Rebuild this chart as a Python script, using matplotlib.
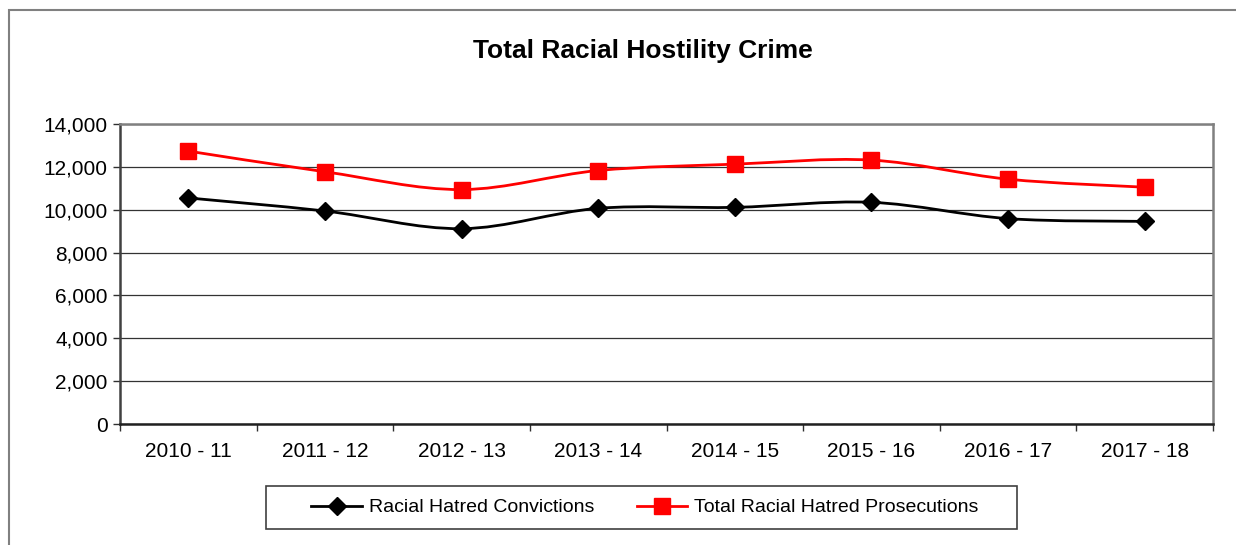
import matplotlib
matplotlib.use("Agg")
import matplotlib.pyplot as plt
import numpy as np
from matplotlib.path import Path
from matplotlib.patches import PathPatch, Rectangle
from matplotlib.lines import Line2D

plt.rcParams['font.family'] = ['Liberation Sans', 'DejaVu Sans']

years = ["2010 - 11", "2011 - 12", "2012 - 13", "2013 - 14",
         "2014 - 15", "2015 - 16", "2016 - 17", "2017 - 18"]
convictions = [10550, 9940, 9115, 10065, 10110, 10345, 9585, 9455]
prosecutions = [12735, 11770, 10940, 11830, 12125, 12315, 11425, 11050]


def smooth_path(xs, ys):
    # excel-like smoothed line: bezier segments through each point
    p = np.column_stack([xs, ys]).astype(float)
    ext = np.vstack([p[0], p, p[-1]])
    verts = [p[0]]
    codes = [Path.MOVETO]
    for i in range(len(p) - 1):
        p0, p1, p2, p3 = ext[i], ext[i + 1], ext[i + 2], ext[i + 3]
        c1 = p1 + (p2 - p0) / 6.0
        c2 = p2 - (p3 - p1) / 6.0
        verts += [c1, c2, p2]
        codes += [Path.CURVE4] * 3
    return Path(verts, codes)


fig = plt.figure(figsize=(12.36, 5.45), dpi=100)

# outer chart border (only top/left visible in the crop)
fig.patches.append(Rectangle((9 / 1236, -0.1), 1.2, 1 - 10 / 545 + 0.1,
                             transform=fig.transFigure, fill=False,
                             edgecolor='#808080', linewidth=1.5))

ax = fig.add_axes([120 / 1236, 121 / 545, 1093 / 1236, 300 / 545])
x = np.arange(len(years))

for vals, col, mk, ms in [(convictions, 'black', 'D', 9),
                          (prosecutions, '#ff0000', 's', 11)]:
    ax.add_patch(PathPatch(smooth_path(x, vals), fill=False,
                           edgecolor=col, linewidth=2, zorder=3))
    ax.plot(x, vals, linestyle='none', marker=mk, markersize=ms,
            color=col, zorder=4)

ax.set_xlim(-0.5, len(years) - 0.5)
ax.set_ylim(0, 14000)
ax.set_yticks(np.arange(0, 14001, 2000))
ax.set_yticklabels([f"{v:,}" for v in range(0, 14001, 2000)], fontsize=15)
ax.set_xticks(x)
ax.set_xticklabels(years, fontsize=15)
ax.set_xticks(np.arange(-0.5, len(years)), minor=True)
ax.tick_params(axis='x', which='major', length=0, pad=13)
ax.tick_params(axis='x', which='minor', length=5, width=1, color='#303030')
ax.tick_params(axis='y', length=5, width=1, color='#303030', pad=4)
ax.yaxis.grid(True, color='#333333', linewidth=0.9)
ax.set_axisbelow(True)
for s in ['top', 'right']:
    ax.spines[s].set_color('#808080')
    ax.spines[s].set_linewidth(1.8)
ax.spines['left'].set_color('#404040')
ax.spines['left'].set_linewidth(1.8)
ax.spines['bottom'].set_color('#202020')
ax.spines['bottom'].set_linewidth(1.8)

fig.text(643 / 1236, 1 - 51 / 545, "Total Racial Hostility Crime",
         fontsize=19, fontweight='bold', ha='center', va='center')

# legend
fig.patches.append(Rectangle((266 / 1236, 1 - 529 / 545), 751 / 1236, 43 / 545,
                             transform=fig.transFigure, fill=False,
                             edgecolor='#404040', linewidth=1.2))
handles = [Line2D([], [], color='black', lw=2, marker='D', markersize=9),
           Line2D([], [], color='#ff0000', lw=2, marker='s', markersize=11)]
fig.legend(handles, ["Racial Hatred Convictions", "Total Racial Hatred Prosecutions"],
           loc='center', bbox_to_anchor=(645 / 1236, 1 - 507.5 / 545), ncol=2,
           frameon=False, fontsize=14, handlelength=2.6, handletextpad=0.35,
           columnspacing=2.2)

fig.savefig("out.png", dpi=100)
